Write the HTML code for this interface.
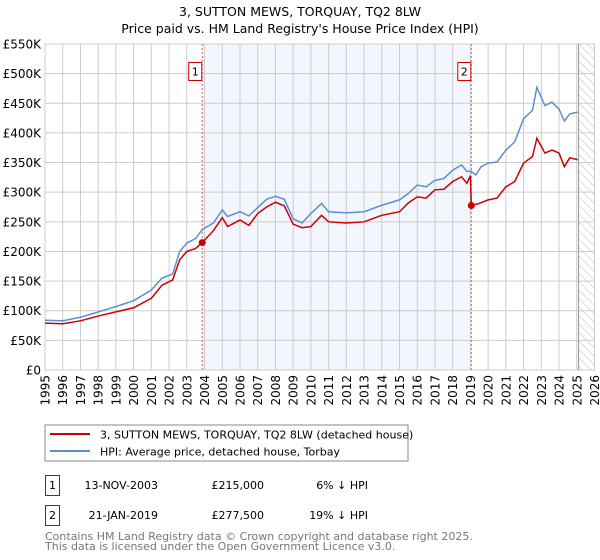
<!DOCTYPE html>
<html><head><meta charset="utf-8"><style>
body{margin:0;background:#fff}
svg{display:block;font-family:"DejaVu Sans","Liberation Sans",sans-serif}
</style></head><body>
<svg id="chart" width="600" height="560" viewBox="0 0 600 560" xmlns="http://www.w3.org/2000/svg">
<defs>
<pattern id="hatch" patternUnits="userSpaceOnUse" width="6" height="6" patternTransform="rotate(-45)">
<line x1="0" y1="0" x2="0" y2="6" stroke="#bbb" stroke-width="1"/>
</pattern>
</defs>
<text x="300" y="16" text-anchor="middle" font-size="12.5">3, SUTTON MEWS, TORQUAY, TQ2 8LW</text>
<text x="300" y="33" text-anchor="middle" font-size="12.5">Price paid vs. HM Land Registry's House Price Index (HPI)</text>
<g id="plot"></g>
<g>
<rect x="45" y="425" width="363" height="36" fill="#fff" stroke="#888" stroke-width="1"/>
<line x1="50" y1="434" x2="90" y2="434" stroke="#cc0000" stroke-width="2"/>
<text x="100" y="438.5" font-size="11">3, SUTTON MEWS, TORQUAY, TQ2 8LW (detached house)</text>
<line x1="50" y1="451" x2="90" y2="451" stroke="#5b8fd0" stroke-width="2"/>
<text x="100" y="455.5" font-size="11">HPI: Average price, detached house, Torbay</text>
</g>
<g font-size="11">
<rect x="45.5" y="475.5" width="14" height="20" fill="none" stroke="#cc0000"/>
<text x="52.5" y="489" text-anchor="middle">1</text>
<text x="158" y="489" text-anchor="end">13-NOV-2003</text>
<text x="264" y="489" text-anchor="end">£215,000</text>
<text x="368" y="489" text-anchor="end">6% ↓ HPI</text>
<rect x="45.5" y="505.5" width="14" height="20" fill="none" stroke="#cc0000"/>
<text x="52.5" y="519" text-anchor="middle">2</text>
<text x="158" y="519" text-anchor="end">21-JAN-2019</text>
<text x="264" y="519" text-anchor="end">£277,500</text>
<text x="368" y="519" text-anchor="end">19% ↓ HPI</text>
</g>
<text x="45" y="540" font-size="11" fill="#777">Contains HM Land Registry data © Crown copyright and database right 2025.</text>
<text x="45" y="550" font-size="11" fill="#777">This data is licensed under the Open Government Licence v3.0.</text>
</svg>
<script>
const hpiYears=[1995,1996,1997,1998,1999,2000,2001,2001.6,2002.2,2002.6,2003,2003.5,2003.87,2004.5,2005,2005.3,2006,2006.5,2007,2007.5,2008,2008.5,2009,2009.5,2010,2010.6,2011,2012,2013,2014,2015,2015.5,2016,2016.5,2017,2017.5,2018,2018.5,2018.8,2019.05,2019.3,2019.6,2020,2020.5,2021,2021.5,2022,2022.5,2022.75,2023.2,2023.6,2024,2024.3,2024.6,2025.05];
const hpiValues=[84,83,89,98,107,117,135,155,162,200,214,222,237,248,270,259,267,260,274,288,293,288,255,248,264,281,267,265,267,278,287,298,312,309,320,323,337,346,335,335,329,343,349,351,371,385,424,438,477,446,452,440,420,432,435];
const priceYears=[1995,1996,1997,1998,1999,2000,2001,2001.6,2002.2,2002.6,2003,2003.5,2003.87,2004.5,2005,2005.3,2006,2006.5,2007,2007.5,2008,2008.5,2009,2009.5,2010,2010.6,2011,2012,2013,2014,2015,2015.5,2016,2016.5,2017,2017.5,2018,2018.5,2018.8,2019.0,2019.05,2019.5,2020,2020.5,2021,2021.5,2022,2022.5,2022.75,2023.2,2023.6,2024,2024.3,2024.6,2025.05];
const priceValues=[79,78,83,91,98,105,121,143,152,186,200,205,215,235,257,242,253,244,264,275,283,277,246,240,242,261,250,248,250,261,267,282,292,290,304,305,318,326,315,328,277.5,281,287,290,309,318,349,360,391,366,371,366,343,358,355];
const saleYears=[2003.87,2019.05];
const saleValues=[215,277.5];
const saleLabels=["1","2"];
const yTicks=[0,50,100,150,200,250,300,350,400,450,500,550];
const yTickLabels=["£0","£50K","£100K","£150K","£200K","£250K","£300K","£350K","£400K","£450K","£500K","£550K"];
const xTicks=[1995,1996,1997,1998,1999,2000,2001,2002,2003,2004,2005,2006,2007,2008,2009,2010,2011,2012,2013,2014,2015,2016,2017,2018,2019,2020,2021,2022,2023,2024,2025,2026];
const dataEnd=2025.1;

const L=45,R=594.5,T=44,B=370,X0=1995,X1=2026,YMAX=550;
const xs=v=>L+(v-X0)/(X1-X0)*(R-L);
const ys=v=>B-v/YMAX*(B-T);
const NS="http://www.w3.org/2000/svg";
const g=document.getElementById('plot');
function mk(tag,attrs,parent){const e=document.createElementNS(NS,tag);for(const k in attrs)e.setAttribute(k,attrs[k]);(parent||g).appendChild(e);return e;}

mk('rect',{x:L,y:T,width:R-L,height:B-T,fill:'#fff'});
const shade=mk('rect',{x:xs(saleYears[0]),y:T,width:xs(saleYears[1])-xs(saleYears[0]),height:B-T,fill:'#f3f6fd'});


const hatch=mk('rect',{x:xs(dataEnd),y:T,width:R-xs(dataEnd),height:B-T,fill:'url(#hatch)'});



yTicks.forEach((t,i)=>{
 const ln=mk('line',{x1:L,x2:R,y1:ys(t),y2:ys(t),stroke:'#ccc','stroke-width':1});
 
 
 const tx=mk('text',{x:L-4,y:ys(t)+4.5,'text-anchor':'end','font-size':12});
 
 
 tx.textContent=yTickLabels[i];
});
xTicks.forEach(t=>{
 const ln=mk('line',{x1:xs(t),x2:xs(t),y1:T,y2:B,stroke:'#ccc','stroke-width':1});
 
 
 const tx=mk('text',{x:0,y:0,'text-anchor':'end','font-size':12,transform:`translate(${xs(t)+4.5},${B+5}) rotate(-90)`});
 
 
 tx.textContent=t;
});
const border=mk('rect',{x:L,y:T,width:R-L,height:B-T,fill:'none',stroke:'#ccc'});


const endLine=mk('line',{x1:xs(dataEnd),x2:xs(dataEnd),y1:T,y2:B,stroke:'#999','stroke-width':1});



saleYears.forEach((y,i)=>{
 const ln=mk('line',{x1:xs(y),x2:xs(y),y1:T,y2:B,stroke:'#e06060','stroke-width':1,'stroke-dasharray':'2,2'});
 
 
 const bx=mk('rect',{x:xs(y)-13.5,y:62.5,width:13,height:18,fill:'#fff',stroke:'#cc0000'});
 
 
 const tx=mk('text',{x:xs(y)-7,y:75.5,'text-anchor':'middle','font-size':11});
 
 
 tx.textContent=saleLabels[i];
});

const hp=mk('polyline',{points:hpiYears.map((y,i)=>xs(y)+','+ys(hpiValues[i])).join(' '),fill:'none',stroke:'#5b8fd0','stroke-width':1.5});


const pp=mk('polyline',{points:priceYears.map((y,i)=>xs(y)+','+ys(priceValues[i])).join(' '),fill:'none',stroke:'#cc0000','stroke-width':1.5});


saleYears.forEach((y,i)=>{
 const c=mk('circle',{cx:xs(y),cy:ys(saleValues[i]),r:3.5,fill:'#cc0000'});
 
 
});
</script>
</body></html>
